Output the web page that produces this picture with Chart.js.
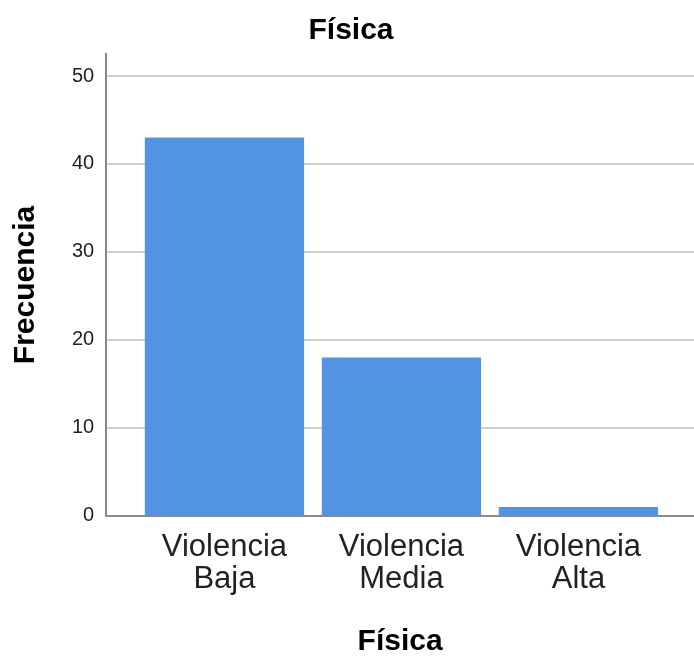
<!DOCTYPE html>
<html>
<head>
<meta charset="utf-8">
<script src="https://cdn.jsdelivr.net/npm/chart.js@4/dist/chart.umd.min.js"></script>
<style>
html,body{margin:0;padding:0;background:#fff;}
#wrap{width:694px;height:660px;}
</style>
</head>
<body>
<div id="wrap"><canvas id="c" width="694" height="660"></canvas></div>
<script>
const chartTitle = 'Física';
const xAxisTitle = 'Física';
const yAxisTitle = 'Frecuencia';
const categories = ['Violencia Baja', 'Violencia Media', 'Violencia Alta'];
const frequencies = [43, 18, 1];
const yTicks = [0, 10, 20, 30, 40, 50];

const FONT = '"Liberation Sans", Arial, sans-serif';
const points = categories.map((c, i) => ({x: i, y: frequencies[i]}));

new Chart(document.getElementById('c'), {
  type: 'bar',
  data: {
    datasets: [{
      data: points,
      backgroundColor: '#5394e2',
      borderWidth: 0,
      barPercentage: 0.9,
      categoryPercentage: 1.0
    }]
  },
  options: {
    responsive: false,
    animation: false,
    layout: {padding: {left: 8, right: 0, top: 0, bottom: 0}},
    plugins: {
      legend: {display: false},
      tooltip: {enabled: false},
      title: {
        display: true,
        text: chartTitle,
        color: '#000',
        font: {family: FONT, size: 30, weight: 'bold'},
        padding: {top: 13, bottom: 5}
      }
    },
    scales: {
      x: {
        type: 'linear',
        min: -0.668,
        max: 2.653,
        offset: false,
        grid: {display: false, drawTicks: false},
        border: {display: true, color: '#8a8a8a', width: 2},
        afterBuildTicks: (scale) => { scale.ticks = categories.map((c, i) => ({value: i})); },
        ticks: {
          autoSkip: false,
          maxRotation: 0,
          minRotation: 0,
          padding: 15,
          color: '#222',
          font: {family: FONT, size: 31, lineHeight: 1.05},
          callback: (v) => { const c = categories[Math.round(v)]; return c ? c.split(' ') : ''; }
        },
        title: {
          display: true,
          text: xAxisTitle,
          color: '#000',
          font: {family: FONT, size: 30, weight: 'bold'},
          padding: {top: 13, bottom: 0}
        }
      },
      y: {
        type: 'linear',
        min: 0,
        max: 52.5,
        afterBuildTicks: (scale) => { scale.ticks = yTicks.map(v => ({value: v})); },
        grid: {color: '#cfcfcf', lineWidth: 2, drawTicks: false},
        border: {display: true, color: '#8a8a8a', width: 2},
        ticks: {
          padding: 12,
          color: '#222',
          font: {family: FONT, size: 20}
        },
        title: {
          display: true,
          text: yAxisTitle,
          color: '#000',
          font: {family: FONT, size: 30, weight: 'bold'},
          padding: {top: 0, bottom: 16}
        }
      }
    }
  }
});
</script>
</body>
</html>
